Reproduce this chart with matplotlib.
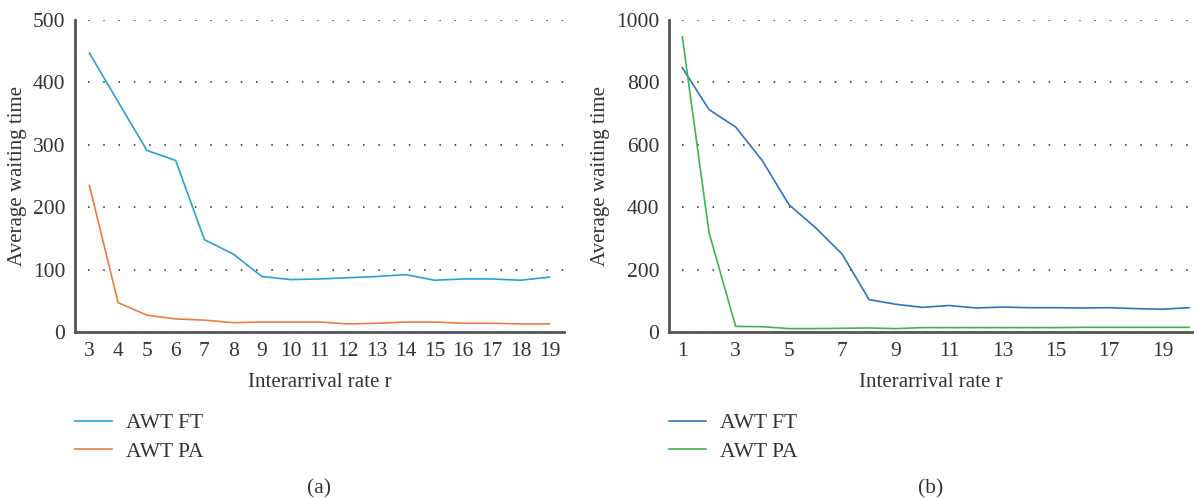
import matplotlib
matplotlib.use("Agg")
import matplotlib.pyplot as plt

# panel (a)
r_a = list(range(3, 20))
awt_ft_a = [447, 369, 291, 275, 148, 125, 89, 84, 85, 87, 89, 92, 83, 85, 85, 83, 88]
awt_pa_a = [235, 47, 27, 21, 19, 15, 16, 16, 16, 13, 14, 16, 16, 14, 14, 13, 13]

# panel (b)
r_b = list(range(1, 21))
awt_ft_b = [847, 713, 657, 549, 408, 334, 249, 104, 89, 79, 85, 77, 80, 78, 78, 77, 78, 75, 73, 78]
awt_pa_b = [946, 319, 18, 17, 11, 11, 12, 13, 11, 14, 14, 14, 14, 14, 14, 15, 15, 15, 15, 15]

plt.rcParams['font.family'] = ['Liberation Serif', 'DejaVu Serif']
txt = '#333333'
fs = 15.5

fig = plt.figure(figsize=(11.94, 4.98), dpi=100)
ax1 = fig.add_axes([0.0628, 0.3333, 0.4095, 0.6265])
ax2 = fig.add_axes([0.5603, 0.3333, 0.4389, 0.6265])


def style(ax, ymax, step, xlim, xticks):
    ax.set_ylim(0, ymax)
    ax.set_yticks(range(0, ymax + 1, step))
    ax.set_xlim(*xlim)
    ax.set_xticks(xticks)
    for s in ['top', 'right']:
        ax.spines[s].set_visible(False)
    for s in ['left', 'bottom']:
        ax.spines[s].set_color('#555555')
        ax.spines[s].set_linewidth(2)
    ax.yaxis.grid(True, linestyle=(1.5, (1, 9)), color='#222222', linewidth=1.1)
    ax.set_axisbelow(True)
    ax.tick_params(length=0, labelsize=fs, colors=txt, pad=7)
    ax.set_ylabel('Average waiting time', fontsize=15, color=txt, labelpad=4)
    ax.set_xlabel('Interarrival rate r', fontsize=15, color=txt, labelpad=9)


ax1.plot(r_a, awt_ft_a, color='#2a9fd8', lw=1.2, label='AWT FT')
ax1.plot(r_a, awt_pa_a, color='#f07a3a', lw=1.2, label='AWT PA')
style(ax1, 500, 100, (2.5, 19.5), r_a)

ax2.plot(r_b, awt_ft_b, color='#2e74c0', lw=1.2, label='AWT FT')
ax2.plot(r_b, awt_pa_b, color='#3db54a', lw=1.2, label='AWT PA')
style(ax2, 1000, 200, (0.5, 20.15), r_b[::2])

for ax, lab in [(ax1, '(a)'), (ax2, '(b)')]:
    ax.legend(loc='upper left', bbox_to_anchor=(0.0, -0.26), frameon=False,
              borderpad=0, borderaxespad=0, fontsize=fs, handlelength=1.74,
              handletextpad=0.65, labelspacing=0.4, labelcolor=txt)
    ax.text(0.5, -0.503, lab, transform=ax.transAxes, ha='center', va='center',
            fontsize=fs, color=txt)

plt.savefig('out.png', dpi=100)
